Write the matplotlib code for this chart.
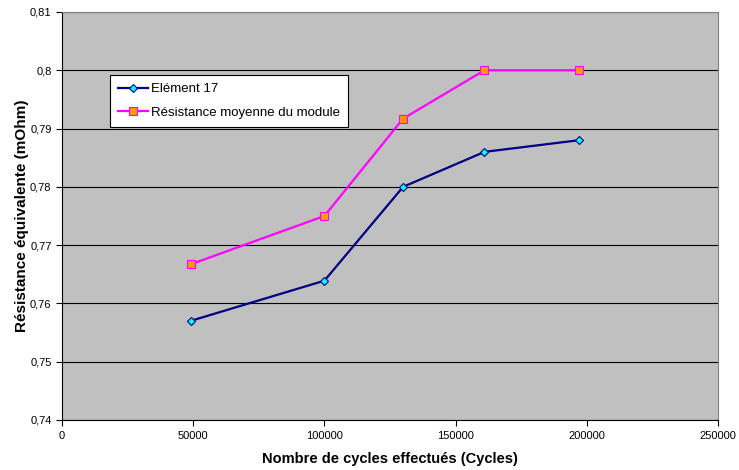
import matplotlib.pyplot as plt
from matplotlib.ticker import FuncFormatter

cycles = [49000, 100000, 130000, 161000, 197000]
element17 = [0.757, 0.7639, 0.780, 0.786, 0.788]
moyenne = [0.7667, 0.775, 0.7917, 0.800, 0.800]

yticks = [0.74, 0.75, 0.76, 0.77, 0.78, 0.79, 0.80, 0.81]
xticks = [0, 50000, 100000, 150000, 200000, 250000]

plt.rcParams['font.family'] = ['Liberation Sans', 'DejaVu Sans']

fig = plt.figure(figsize=(7.39, 4.70), dpi=100)
ax = fig.add_axes([0.0839, 0.1064, 0.8877, 0.8681])
ax.set_facecolor('#C0C0C0')

ax.plot(cycles, element17, color='#000080', lw=1.6, marker='D', ms=4.5,
        mfc='#00FFFF', mec='#000080', mew=0.8, label='Elément 17', zorder=3)
ax.plot(cycles, moyenne, color='#FF00FF', lw=1.6, marker='s', ms=5.5,
        mfc='#FF9900', mec='#FF00FF', mew=0.8,
        label='Résistance moyenne du module', zorder=3)

ax.set_xlim(0, 250000)
ax.set_ylim(0.74, 0.81)
ax.set_xticks(xticks)
ax.set_yticks(yticks)


def virgule(v, pos):
    s = ('%.2f' % v).rstrip('0').rstrip('.')
    return s.replace('.', ',')


ax.yaxis.set_major_formatter(FuncFormatter(virgule))
ax.xaxis.set_major_formatter(FuncFormatter(lambda v, p: '%d' % v))
ax.tick_params(labelsize=8, direction='out', length=4, width=0.8)
ax.tick_params(axis='x', pad=4)
ax.grid(axis='y', color='black', lw=0.8)
ax.set_axisbelow(True)

for s in ['top', 'right']:
    ax.spines[s].set_color('#808080')
for s in ['left', 'bottom']:
    ax.spines[s].set_color('black')

ax.set_xlabel('Nombre de cycles effectués (Cycles)', fontsize=10.5,
              fontweight='bold', labelpad=8)
ax.set_ylabel('Résistance équivalente (mOhm)', fontsize=11,
              fontweight='bold', labelpad=1)

leg = ax.legend(loc='upper left', bbox_to_anchor=(0.073, 0.845), fontsize=9.5,
                frameon=True, fancybox=False, shadow=False, borderpad=0.6,
                handlelength=2.3, handletextpad=0.2, labelspacing=0.85,
                borderaxespad=0)
leg.get_frame().set_edgecolor('black')
leg.get_frame().set_facecolor('white')
leg.get_frame().set_alpha(1)
leg.get_frame().set_linewidth(0.8)

fig.savefig('out.png', dpi=100)
